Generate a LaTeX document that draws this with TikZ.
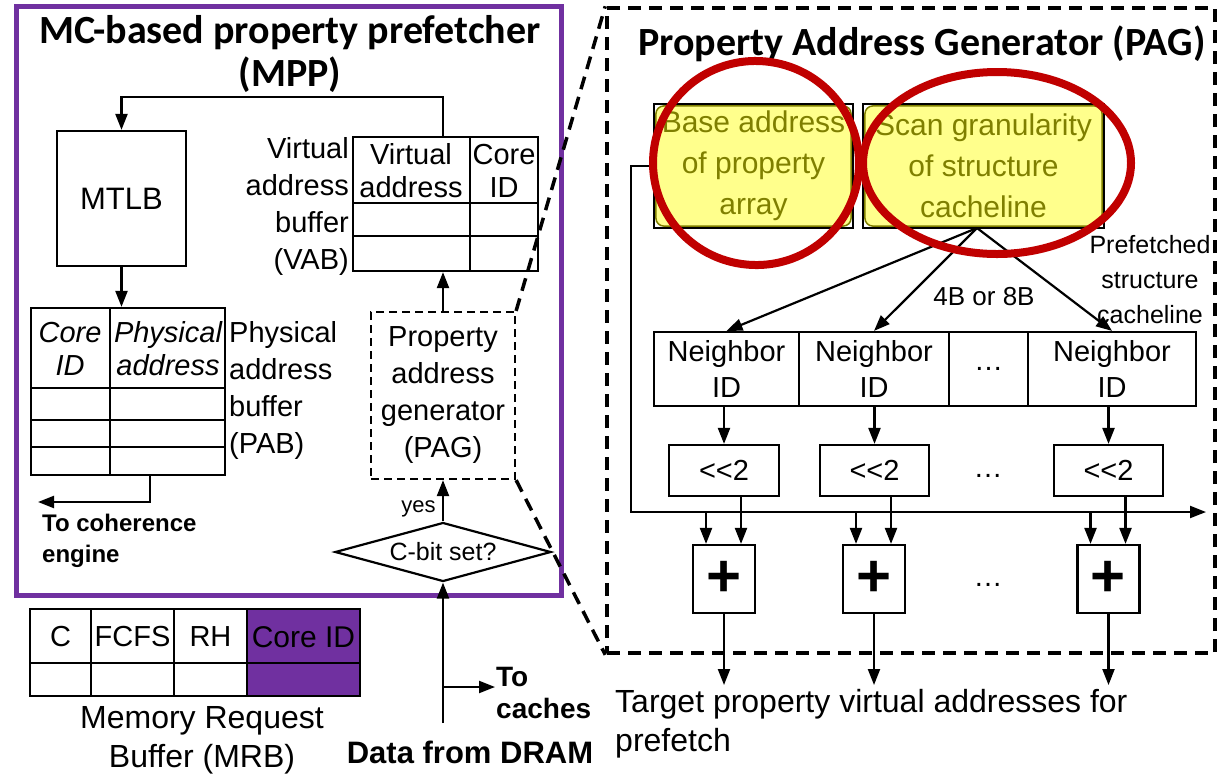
\documentclass[tikz,border=0pt]{standalone}
\usepackage{fontspec}
\setmainfont{Liberation Sans}
\newfontfamily\headfont{Carlito}
\usetikzlibrary{arrows.meta,shapes.geometric,calc}
\definecolor{mppviolet}{HTML}{7030A0}
\definecolor{pagred}{HTML}{C00000}
\definecolor{noteyellow}{HTML}{FFFF8C}
\definecolor{noteolive}{HTML}{7F7F00}
\tikzset{
  lbl/.style={font=\fontsize{29}{37}\selectfont, align=center, inner sep=0},
  small/.style={font=\fontsize{26}{34}\selectfont, align=center, inner sep=0},
  big/.style={font=\fontsize{32}{39}\selectfont, align=center, inner sep=0},
  boldlbl/.style={font=\bfseries\fontsize{28}{32}\selectfont, align=left, inner sep=0},
  headline/.style={font=\headfont\bfseries\fontsize{40}{43}\selectfont, align=center, inner sep=0},
  box/.style={draw, line width=2.2, rectangle, inner sep=0},
  dashbox/.style={draw, line width=2.2, rectangle, inner sep=0, dash pattern=on 8pt off 5pt},
  adder/.style={draw, line width=2.2, rectangle, inner sep=0, minimum width=62, minimum height=68, font=\bfseries\fontsize{60}{60}\selectfont},
  grid/.style={line width=1.6},
  plain/.style={line width=2.2},
  arr/.style={line width=2.2, -{Triangle[length=16pt,width=12pt]}},
  zoomline/.style={line width=3.5, dash pattern=on 13pt off 8pt},
}
\begin{document}
\begin{tikzpicture}[x=1pt,y=-1pt]
\useasboundingbox (0,0) rectangle (1230,780);

% ---------------- MC-based property prefetcher ----------------
\node[draw=mppviolet, line width=5, minimum width=545, minimum height=589, inner sep=0] (mpp) at (288.5,300.5) {};
\node[headline] (mpptitle) at (290,54) {MC-based property prefetcher\\(MPP)};

% MTLB
\node[box, lbl, font=\fontsize{31}{37}\selectfont, minimum width=129, minimum height=135] (mtlb) at (121.5,198.5) {MTLB};

% Virtual address buffer
\node[box, minimum width=185, minimum height=134] (vab) at (445.5,204) {};
\draw[grid] (470,137) -- (470,271);
\draw[grid] (353,203) -- (538,203);
\draw[grid] (353,236) -- (538,236);
\node[lbl, font=\fontsize{29}{33}\selectfont] (vabva) at (411,171) {Virtual\\address};
\node[lbl, font=\fontsize{29}{33}\selectfont] (vabcid) at (504,171) {Core\\ID};
\node[lbl, align=right, anchor=east] (vablbl) at (349,206) {Virtual\\address\\buffer\\(VAB)};

\coordinate (vabtap) at (443,137);
\coordinate (topturn) at (443,97);
\draw[arr] (vabtap) -- (topturn) -| (mtlb.north);

% Physical address buffer
\node[box, minimum width=194, minimum height=167] (pab) at (128,391.5) {};
\draw[grid] (110,308) -- (110,475);
\draw[grid] (31,388) -- (225,388);
\draw[grid] (31,420) -- (225,420);
\draw[grid] (31,447) -- (225,447);
\node[lbl, font=\itshape\fontsize{29}{33}\selectfont] (pabcid) at (70,349) {Core\\ID};
\node[lbl, font=\itshape\fontsize{29}{33}\selectfont] (pabpa) at (168,349) {Physical\\address};
\node[lbl, align=left, anchor=west] (pablbl) at (229,390) {Physical\\address\\buffer\\(PAB)};

\draw[arr] (mtlb.south) -- (mtlb.south |- pab.north);

\coordinate (pabtap) at (150,475);
\coordinate (coh) at (38,502);
\draw[arr] (pabtap) |- (coh);
\node[boldlbl, font=\bfseries\fontsize{24}{31}\selectfont, anchor=north west] (cohlbl) at (42,514) {To coherence\\engine};

% Property address generator
\node[dashbox, lbl, minimum width=144, minimum height=167] (pag) at (443,395.5) {Property\\address\\generator\\(PAG)};
\draw[arr] (pag.north) -- (pag.north |- vab.south);

% C-bit check
\node[diamond, draw, line width=2.2, aspect=3.6, minimum width=216, minimum height=59, inner sep=0, font=\fontsize{25}{30}\selectfont] (cbit) at (443,552) {C-bit set?};
\draw[arr] (cbit.north) -- (pag.south) node[pos=0.3, left, xshift=-3pt, font=\fontsize{22}{26}\selectfont] {yes};

% Data from DRAM
\node[boldlbl, font=\bfseries\fontsize{31}{36}\selectfont] (dram) at (470,752) {Data from DRAM};
\coordinate (dramtap) at (443,723);
\coordinate (branch) at (443,687);
\coordinate (cachetip) at (495,687);
\draw[arr] (dramtap) -- (cbit.south);
\draw[arr] (branch) -- (cachetip);
\node[boldlbl, anchor=west] (caches) at (496,693) {To\\caches};

% Memory request buffer
\fill[mppviolet] (247,609) rectangle (360,696);
\node[box, minimum width=330, minimum height=87] (mrb) at (195,652.5) {};
\draw[grid] (30,663) -- (360,663);
\draw[grid] (91,609) -- (91,696);
\draw[grid] (174,609) -- (174,696);
\draw[grid] (247,609) -- (247,696);
\node[lbl] (mrbc) at (60.5,637) {C};
\node[lbl] (mrbf) at (132.5,637) {FCFS};
\node[lbl] (mrbr) at (210.5,637) {RH};
\node[lbl, font=\fontsize{30}{37}\selectfont] (mrbid) at (303.5,637) {Core ID};
\node[big] (mrblbl) at (202,740) {Memory Request\\Buffer (MRB)};

% ---------------- Property Address Generator ----------------
\node[draw, zoomline, minimum width=608, minimum height=645, inner sep=0] (pagbig) at (911,330.5) {};
\draw[zoomline] (pag.north east) -- (pagbig.north west);
\draw[zoomline] (pag.south east) -- (pagbig.south west);
\node[headline] (pagtitle) at (922,44) {Property Address Generator (PAG)};

% configuration registers
\node[box, minimum width=199, minimum height=124] (base) at (753.5,166) {};
\node[box, minimum width=241, minimum height=124] (scan) at (983.5,166) {};
\fill[noteyellow, draw=noteolive, line width=1.5, rounded corners=8] ($(base.north west)+(3,3)$) rectangle ($(base.south east)+(-3,-3)$);
\fill[noteyellow, draw=noteolive, line width=1.5, rounded corners=8] ($(scan.north west)+(3,3)$) rectangle ($(scan.south east)+(-3,-3)$);
\node[lbl, font=\fontsize{30}{41}\selectfont, text=noteolive] (basetxt) at (base) {Base address\\of property\\array};
\node[lbl, font=\fontsize{30}{41}\selectfont, text=noteolive] (scantxt) at (scan) {Scan granularity\\of structure\\cacheline};

% neighbour list
\node[box, lbl, font=\fontsize{29}{36}\selectfont, minimum width=145, minimum height=74] (n1) at (726.5,369) {Neighbor\\ID};
\node[box, lbl, font=\fontsize{29}{36}\selectfont, minimum width=150, minimum height=74] (n2) at (874,369) {Neighbor\\ID};
\node[box, lbl, minimum width=79, minimum height=74] (n3) at (988.5,369) {\ldots};
\node[box, lbl, font=\fontsize{29}{36}\selectfont, minimum width=168, minimum height=74] (n4) at (1112,369) {Neighbor\\ID};

\coordinate (fan) at (977,228);
\draw[arr] (fan) -- (n1.north);
\draw[arr] (fan) -- (n2.north);
\draw[arr] (fan) -- (n4.north);
\node[small] (width) at (984,297) {4B or 8B};
\node[small, font=\fontsize{25}{35}\selectfont] (pref) at (1150,280) {Prefetched\\structure\\cacheline};

% shifters
\node[box, lbl, minimum width=110, minimum height=51] (s1) at (724,470.5) {<{}<2};
\node[box, lbl, minimum width=109, minimum height=51] (s2) at (874.5,470.5) {<{}<2};
\node[box, lbl, minimum width=109, minimum height=51] (s3) at (1108.5,470.5) {<{}<2};
\node[lbl] (sdots) at (988,476) {\ldots};
\draw[arr] (s1.north |- n1.south) -- (s1.north);
\draw[arr] (s2.north |- n2.south) -- (s2.north);
\draw[arr] (s3.north |- n4.south) -- (s3.north);

% base address bus
\coordinate (busL) at (631,512);
\coordinate (busR) at (1206,512);
\draw[arr] (base.west) -| (busL) -- (busR);

% adders
\node[adder] (a1) at (724,579) {+};
\node[adder] (a2) at (874,579) {+};
\node[adder] (a3) at (1108.5,579) {+};
\node[lbl] (adots) at (988,585) {\ldots};

\coordinate (outrow) at (0,685);
\foreach \a/\s in {a1/s1, a2/s2, a3/s3} {
  \coordinate (\a l) at ($(\a.north)+(-18,0)$);
  \coordinate (\a r) at ($(\a.north)+(17,0)$);
  \draw[arr] (\a l |- busL) -- (\a l);
  \draw[arr] (\a r |- \s.south) -- (\a r);
  \draw[arr] (\a.south) -- (\a.south |- outrow);
}

\node[big, align=left, anchor=west] (target) at (615,724) {Target property virtual addresses for\\prefetch};

% highlights
\node[ellipse, draw=pagred, line width=8, minimum width=206, minimum height=204, inner sep=0, rotate=-8] (hl1) at (756,163) {};
\node[ellipse, draw=pagred, line width=8, minimum width=268, minimum height=182, inner sep=0] (hl2) at (997,163) {};
\end{tikzpicture}
\end{document}
